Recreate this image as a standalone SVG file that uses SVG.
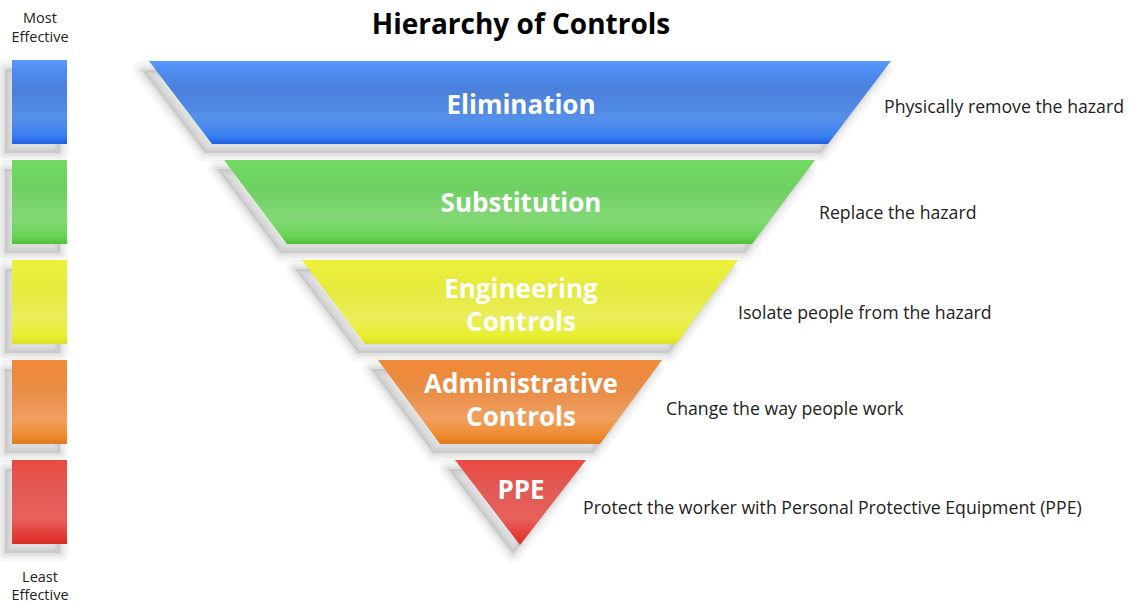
<svg xmlns="http://www.w3.org/2000/svg" xmlns:xlink="http://www.w3.org/1999/xlink" width="1130" height="603" viewBox="0 0 1130 603">
<defs>
<linearGradient id="gB" x1="0" y1="0" x2="0" y2="1">
<stop offset="0" stop-color="#5a9bff"/><stop offset="0.1" stop-color="#4f8ef3"/><stop offset="0.35" stop-color="#4a80dc"/><stop offset="0.7" stop-color="#5590ea"/><stop offset="0.9" stop-color="#3a7ef0"/><stop offset="1" stop-color="#1d5fe0"/>
</linearGradient>
<linearGradient id="gG" x1="0" y1="0" x2="0" y2="1">
<stop offset="0" stop-color="#72da60"/><stop offset="0.35" stop-color="#6fd062"/><stop offset="0.7" stop-color="#84d877"/><stop offset="0.9" stop-color="#6ad458"/><stop offset="1" stop-color="#4ec03a"/>
</linearGradient>
<linearGradient id="gY" x1="0" y1="0" x2="0" y2="1">
<stop offset="0" stop-color="#eef03a"/><stop offset="0.35" stop-color="#e4ea3e"/><stop offset="0.7" stop-color="#eaee5a"/><stop offset="0.9" stop-color="#e8ef30"/><stop offset="1" stop-color="#d8e020"/>
</linearGradient>
<linearGradient id="gO" x1="0" y1="0" x2="0" y2="1">
<stop offset="0" stop-color="#f08a36"/><stop offset="0.35" stop-color="#e88c46"/><stop offset="0.7" stop-color="#f0a060"/><stop offset="0.9" stop-color="#ee8a30"/><stop offset="1" stop-color="#e07a20"/>
</linearGradient>
<linearGradient id="gR" x1="0" y1="0" x2="0" y2="1">
<stop offset="0" stop-color="#ec4a40"/><stop offset="0.35" stop-color="#e05a56"/><stop offset="0.7" stop-color="#e8605c"/><stop offset="0.9" stop-color="#e23a34"/><stop offset="1" stop-color="#d82e28"/>
</linearGradient>
<polygon id="pB" points="149,61 891,61 828,144 212,144"/>
<polygon id="pG" points="224,160 815,160 752,244 287,244"/>
<polygon id="pY" points="302,260 738,260 676,344 365,344"/>
<polygon id="pO" points="378,360 662,360 600,444 440,444"/>
<polygon id="pR" points="455,460 586,460 520,545"/>
<rect id="r1" x="12" y="60" width="55" height="84"/>
<rect id="r2" x="12" y="160" width="55" height="84"/>
<rect id="r3" x="12" y="260" width="55" height="84"/>
<rect id="r4" x="12" y="360" width="55" height="84"/>
<rect id="r5" x="12" y="460" width="55" height="84"/>
<style>
.s1{fill:none;stroke:#000;stroke-opacity:0.03;stroke-width:18;stroke-linejoin:round}
.s2{fill:none;stroke:#000;stroke-opacity:0.04;stroke-width:11;stroke-linejoin:round}
.s3{fill:none;stroke:#000;stroke-opacity:0.05;stroke-width:5;stroke-linejoin:round}
.s4{fill:#000;fill-opacity:0.1;stroke:none}
.lbl{font-family:"Open Sans","Noto Sans",sans-serif;font-weight:bold;font-size:26px;fill:#fff;text-anchor:middle}
.desc{font-family:"Open Sans","Noto Sans",sans-serif;font-size:17.7px;fill:#222}
.side{font-family:"Open Sans","Noto Sans",sans-serif;font-size:14.5px;fill:#222;text-anchor:middle}
.title{font-family:"Open Sans","Noto Sans",sans-serif;font-weight:bold;font-size:28px;fill:#000;text-anchor:middle}
</style>
</defs>
<rect width="1130" height="603" fill="#fff"/>
<g id="shadows" transform="translate(-7,9)">
<use xlink:href="#pB" class="s1"/><use xlink:href="#pB" class="s2"/><use xlink:href="#pB" class="s3"/><use xlink:href="#pB" class="s4"/>
<use xlink:href="#pG" class="s1"/><use xlink:href="#pG" class="s2"/><use xlink:href="#pG" class="s3"/><use xlink:href="#pG" class="s4"/>
<use xlink:href="#pY" class="s1"/><use xlink:href="#pY" class="s2"/><use xlink:href="#pY" class="s3"/><use xlink:href="#pY" class="s4"/>
<use xlink:href="#pO" class="s1"/><use xlink:href="#pO" class="s2"/><use xlink:href="#pO" class="s3"/><use xlink:href="#pO" class="s4"/>
<use xlink:href="#pR" class="s1"/><use xlink:href="#pR" class="s2"/><use xlink:href="#pR" class="s3"/><use xlink:href="#pR" class="s4"/>
<use xlink:href="#r1" class="s1"/><use xlink:href="#r1" class="s2"/><use xlink:href="#r1" class="s3"/><use xlink:href="#r1" class="s4"/>
<use xlink:href="#r2" class="s1"/><use xlink:href="#r2" class="s2"/><use xlink:href="#r2" class="s3"/><use xlink:href="#r2" class="s4"/>
<use xlink:href="#r3" class="s1"/><use xlink:href="#r3" class="s2"/><use xlink:href="#r3" class="s3"/><use xlink:href="#r3" class="s4"/>
<use xlink:href="#r4" class="s1"/><use xlink:href="#r4" class="s2"/><use xlink:href="#r4" class="s3"/><use xlink:href="#r4" class="s4"/>
<use xlink:href="#r5" class="s1"/><use xlink:href="#r5" class="s2"/><use xlink:href="#r5" class="s3"/><use xlink:href="#r5" class="s4"/>
</g>
<text class="title" x="521" y="34">Hierarchy of Controls</text>
<g id="scale">
<text class="side" x="40" y="23">Most</text>
<text class="side" x="40" y="42">Effective</text>
<use xlink:href="#r1" fill="url(#gB)"/>
<use xlink:href="#r2" fill="url(#gG)"/>
<use xlink:href="#r3" fill="url(#gY)"/>
<use xlink:href="#r4" fill="url(#gO)"/>
<use xlink:href="#r5" fill="url(#gR)"/>
<text class="side" x="40" y="582">Least</text>
<text class="side" x="40" y="600">Effective</text>
</g>
<g id="elimination">
<use xlink:href="#pB" fill="url(#gB)"/>
<text class="lbl" x="521" y="114">Elimination</text>
<text class="desc" x="884" y="113">Physically remove the hazard</text>
</g>
<g id="substitution">
<use xlink:href="#pG" fill="url(#gG)"/>
<text class="lbl" x="521" y="212">Substitution</text>
<text class="desc" x="819" y="219">Replace the hazard</text>
</g>
<g id="engineering">
<use xlink:href="#pY" fill="url(#gY)"/>
<text class="lbl" x="521" y="298">Engineering</text>
<text class="lbl" x="521" y="331">Controls</text>
<text class="desc" x="738" y="319">Isolate people from the hazard</text>
</g>
<g id="administrative">
<use xlink:href="#pO" fill="url(#gO)"/>
<text class="lbl" x="521" y="393">Administrative</text>
<text class="lbl" x="521" y="426">Controls</text>
<text class="desc" x="666" y="415">Change the way people work</text>
</g>
<g id="ppe">
<use xlink:href="#pR" fill="url(#gR)"/>
<text class="lbl" x="521" y="499">PPE</text>
<text class="desc" x="583" y="514">Protect the worker with Personal Protective Equipment (PPE)</text>
</g>
<g id="connectors"/>
</svg>
